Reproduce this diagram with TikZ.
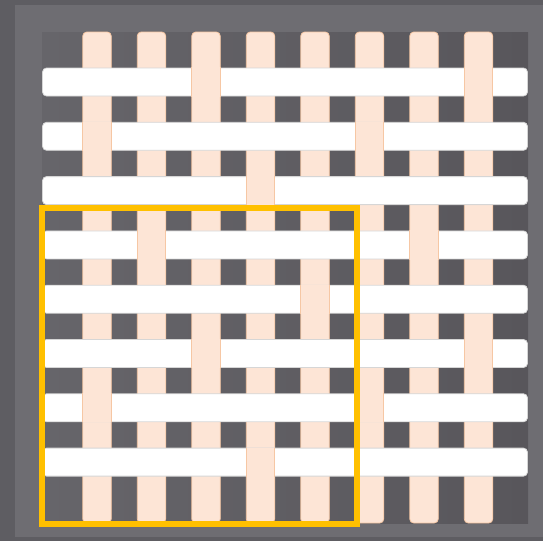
\documentclass[tikz,border=0pt]{standalone}
\usepackage{tikz}

\definecolor{outergray}{HTML}{5E5D62}
\definecolor{framegray}{HTML}{6E6D72}
\definecolor{panelleft}{HTML}{66656A}
\definecolor{panelright}{HTML}{58565B}
\definecolor{peach}{HTML}{FDE5D6}
\definecolor{peachedge}{HTML}{F6C7A4}
\definecolor{whiteedge}{HTML}{D6D6D6}
\definecolor{markyellow}{HTML}{FFC000}

\tikzset{
    warp/.style={fill=peach, draw=peachedge, line width=0.8pt, rounded corners=4pt},
    weft/.style={fill=white, draw=whiteedge, line width=0.8pt, rounded corners=4pt},
    unit/.style={draw=markyellow, line width=6pt}
}

\begin{document}
\begin{tikzpicture}[x=1pt, y=-1pt]
        \useasboundingbox (0,0) rectangle (543,541);

        % pozadi a ram
        \fill[outergray] (0,0) rectangle (543,541);
        \fill[framegray] (15,5) rectangle (543,537);
        \shade[left color=panelleft, right color=panelright] (42,32) rectangle (528,523.5);

        % osnova (svisle pasy)
        \foreach \c [evaluate=\c as \x using 97+54.5*(\c-1)] in {1,...,8}{
            \draw[warp] (\x-14.25,32) rectangle (\x+14.25,523);
        }

        % utek (vodorovne pasy)
        \foreach \r [evaluate=\r as \y using 82+54.3*(\r-1)] in {1,...,8}{
            \draw[weft] (42.5,\y-14) rectangle (527.5,\y+14);
        }

        % vazne body osnovy
        \foreach \r in {1,...,8}{
            \foreach \c in {1,...,8}{
                \pgfmathsetmacro{\x}{97+54.5*(\c-1)}
                \pgfmathsetmacro{\y}{82+54.3*(\r-1)}
                \pgfmathtruncatemacro{\k}{mod(\c+2*\r,5)}
                \ifnum\k=0
                    \fill[peach] (\x-14.25,\y-14.6) rectangle (\x+14.25,\y+14.6);
                    \draw[peachedge, line width=0.8pt] (\x-14.25,\y-14.6) -- (\x-14.25,\y+14.6);
                    \draw[peachedge, line width=0.8pt] (\x+14.25,\y-14.6) -- (\x+14.25,\y+14.6);
                \fi
            }
        }

        % strida vazby
        \draw[unit] (42,208) rectangle (357,523.5);

    \end{tikzpicture}
\end{document}
